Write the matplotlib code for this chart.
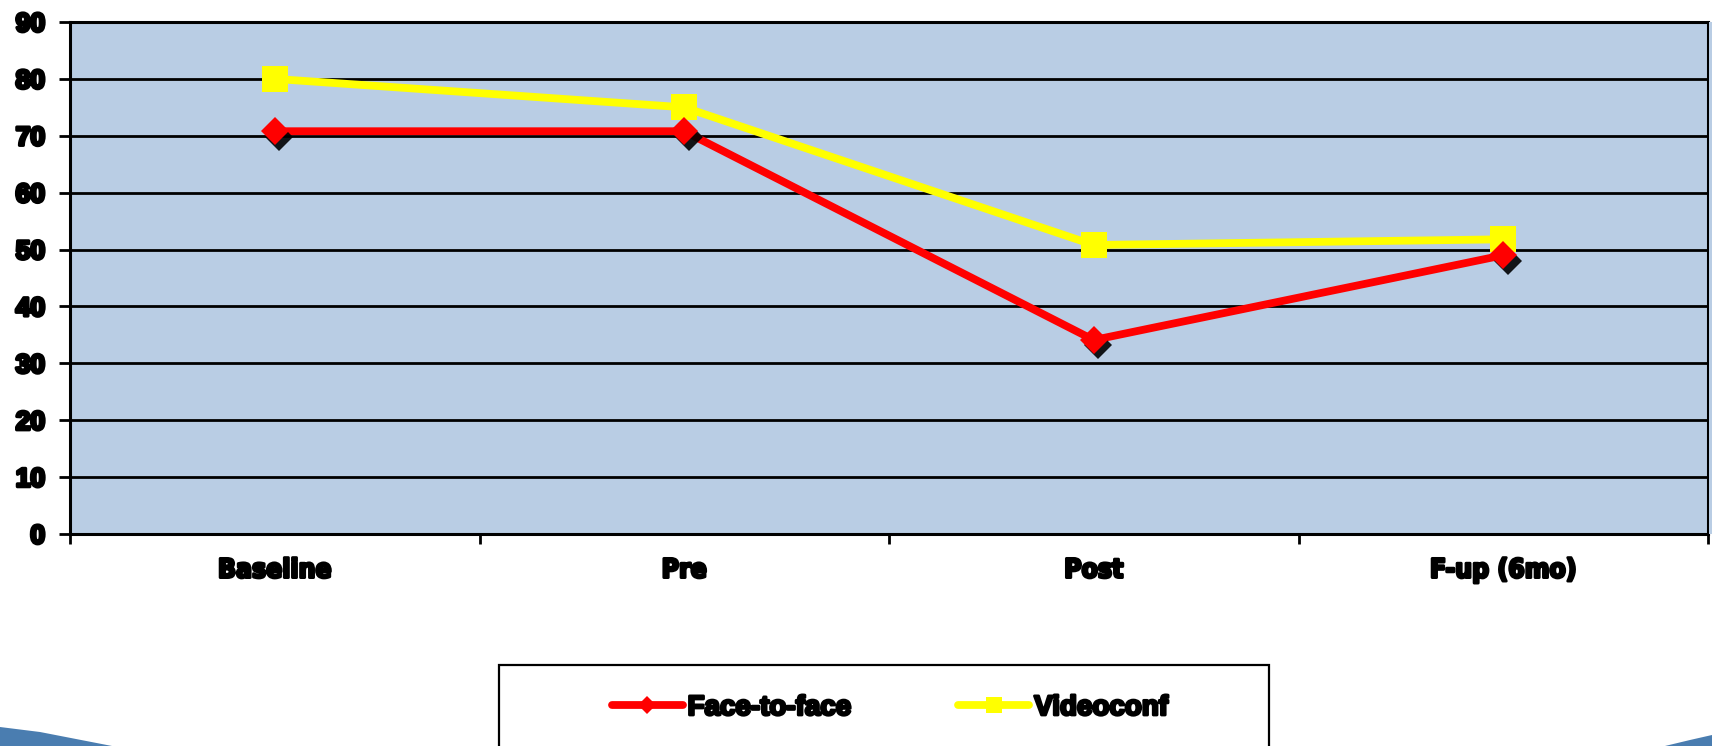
import matplotlib
matplotlib.use("Agg")
import matplotlib.pyplot as plt
import matplotlib.patheffects as pe
from matplotlib import font_manager
from matplotlib.lines import Line2D
from matplotlib.patches import Rectangle, Polygon
from matplotlib.transforms import offset_copy

# Data
categories = ["Baseline", "Pre", "Post", "F-up (6mo)"]
face_to_face = [70.8, 70.8, 34.1, 49.0]
videoconf = [80.0, 75.0, 50.8, 51.8]
y_ticks = [0, 10, 20, 30, 40, 50, 60, 70, 80, 90]

W, H = 1712, 746
fig = plt.figure(figsize=(W / 100, H / 100), dpi=100)
fig.patch.set_facecolor("white")

plt.rcParams["font.family"] = ["Liberation Sans", "DejaVu Sans"]
heavy = [pe.withStroke(linewidth=2.0, foreground="black")]
heavier = [pe.withStroke(linewidth=2.4, foreground="black")]


def narrow_bold_font():
    """Pick a condensed bold face if one is installed."""
    entries = font_manager.fontManager.ttflist
    for wanted in ("Liberation Sans Narrow", "DejaVu Sans"):
        for f in entries:
            w = f.weight if isinstance(f.weight, int) else 700 if "bold" in str(f.weight) else 400
            if f.name == wanted and w >= 700 and "condensed" in str(f.stretch):
                return font_manager.FontProperties(fname=f.fname)
    return font_manager.FontProperties(family="Liberation Sans", weight="bold")


narrow = narrow_bold_font()

ax_left, ax_right, ax_top, ax_bottom = 70, 1708, 22, 534
ax = fig.add_axes([ax_left / W, 1 - ax_bottom / H,
                   (ax_right - ax_left) / W, (ax_bottom - ax_top) / H])
ax.set_facecolor("#b9cde4")

x = [i + 0.5 for i in range(len(categories))]

# Lines and markers
ax.plot(x, face_to_face, color="#ff0000", lw=5.6, zorder=3,
        solid_capstyle="butt")
ax.plot(x, videoconf, color="#ffff00", lw=5.6, zorder=4,
        marker="s", markersize=18.5, markeredgewidth=0,
        solid_capstyle="butt")
# Drop shadow under the diamond markers
shadow_tr = offset_copy(ax.transData, fig=fig, x=3.2, y=-3.8, units="points")
ax.plot(x, face_to_face, linestyle="none", marker="D", markersize=14,
        color="black", markeredgewidth=0, transform=shadow_tr, zorder=5,
        alpha=0.9)
ax.plot(x, face_to_face, linestyle="none", marker="D", markersize=14,
        color="#ff0000", markeredgewidth=0, zorder=6)

ax.set_xlim(0, len(categories))
ax.set_ylim(0, 90)

# Grid
ax.set_yticks(y_ticks)
ax.yaxis.grid(True, color="black", lw=2.0)
ax.set_axisbelow(True)

# Ticks
ax.set_xticks(x)
ax.set_xticklabels(categories)
ax.set_xticks(range(len(categories) + 1), minor=True)
ax.tick_params(axis="x", which="major", length=0, pad=17)
ax.tick_params(axis="x", which="minor", length=7, width=2, direction="out",
               color="black")
ax.tick_params(axis="y", which="major", length=8, width=2, direction="out",
               pad=10, color="black")
for lab in ax.get_xticklabels():
    lab.set_fontproperties(narrow)
    lab.set_fontsize(19)
    lab.set_path_effects(heavy)
for lab in ax.get_yticklabels():
    lab.set_fontsize(19)
    lab.set_fontweight("bold")
    lab.set_path_effects(heavier)

for s in ax.spines.values():
    s.set_color("black")
    s.set_linewidth(2.2)

# Thin strip of plot colour to the right of the frame
fig.patches.append(Rectangle((1709 / W, 1 - ax_bottom / H), 3 / W,
                             (ax_bottom - ax_top) / H,
                             transform=fig.transFigure,
                             facecolor="#b9cde4", edgecolor="none"))

# Legend
handles = [
    Line2D([], [], color="#ff0000", lw=5.6, marker="D", markersize=9,
           markeredgewidth=0, solid_capstyle="round"),
    Line2D([], [], color="#ffff00", lw=5.6, marker="s", markersize=11,
           markeredgewidth=0, solid_capstyle="round"),
]
leg = fig.legend(handles, ["Face-to-face", "Videoconf"], ncol=2,
                 loc="center", bbox_to_anchor=(890 / W, 1 - 708 / H),
                 frameon=False, handlelength=2.55, handletextpad=0.18,
                 columnspacing=3.85, prop={"size": 20, "weight": "bold"})
for t in leg.get_texts():
    t.set_path_effects(heavy)

fig.patches.append(Rectangle((499 / W, -0.2), (1269 - 499) / W,
                             0.2 + 1 - 665 / H, transform=fig.transFigure,
                             facecolor="none", edgecolor="black", lw=1.6))

# Blue corner swooshes
fig.patches.append(Polygon([(0, 1 - 727 / H), (40 / W, 1 - 732 / H),
                            (112 / W, 0), (0, 0)],
                           transform=fig.transFigure, closed=True,
                           facecolor="#4a7db0", edgecolor="none"))
fig.patches.append(Polygon([(1665 / W, 0), (1690 / W, 1 - 740 / H),
                            (1, 1 - 735 / H), (1, 0)],
                           transform=fig.transFigure, closed=True,
                           facecolor="#4a7db0", edgecolor="none"))

fig.savefig("out.png", dpi=100)
